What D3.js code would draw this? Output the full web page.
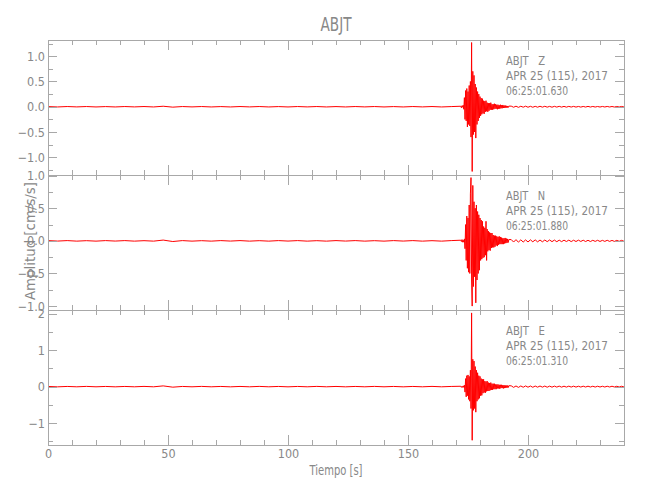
<!DOCTYPE html>
<html><head><meta charset="utf-8">
<script src="https://cdn.jsdelivr.net/npm/d3@7"></script>
<style>
body{margin:0;background:#fff}
text{font-family:"Liberation Sans Narrow","DejaVu Sans Condensed","Arial Narrow",sans-serif;fill:#888}
</style>
</head><body>
<svg id="c" width="650" height="500"></svg>
<script>
// ---- data ----
const stationName = "ABJT";
const channels = ["Z", "N", "E"];
const dateLabel = "APR 25 (115), 2017";
const startTimes = ["06:25:01.630", "06:25:01.880", "06:25:01.310"];
const xDomain = [0, 240];
const xMajorTicks = [0, 50, 100, 150, 200];
const xMinorTicks = [10,20,30,40,60,70,80,90,110,120,130,140,160,170,180,190,210,220,230,240];

const yDomainZ = [-1.35, 1.32];
const yDomainN = [-1.06, 1.01];
const yDomainE = [-1.6, 2.1];
const yMajorZ = [-1.0, -0.5, 0.0, 0.5, 1.0];
const yMinorZ = [-1.25, -0.75, -0.25, 0.25, 0.75, 1.25];
const yMajorN = [-1.0, -0.5, 0.0, 0.5, 1.0];
const yMinorN = [-0.75, -0.25, 0.25, 0.75];
const yMajorE = [-1, 0, 1, 2];
const yMinorE = [-1.5, -0.5, 0.5, 1.5];

// sampling of the three pieces of each trace (seconds)
const noiseStart = 0,   noiseStep = 4;
const eventStart = 172, eventStep = 0.25;
const codaStart = 193,  codaStep = 1;

const noiseZ = [0.003,-0.004,0.004,-0.003,0.004,-0.004,0.003,-0.004,0.004,-0.003,0.004,-0.004,0.01,-0.008,0.004,-0.003,0.004,-0.004,0.003,-0.004,0.004,-0.003,0.004,-0.004,0.003,-0.004,0.004,-0.003,0.004,-0.004,0.003,-0.004,0.004,-0.003,0.004,-0.004,0.003,-0.004,0.004,-0.003,0.004,-0.004,0.003];
const eventZ = [0.01,-0.02,0.02,-0.01,0.03,-0.05,0.18,-0.25,0.32,-0.28,0.36,-0.4,0.3,-0.35,0.42,-0.38,0.5,-0.6,1.27,-1.28,0.7,-0.55,0.62,-0.5,0.45,-0.62,0.38,-0.35,0.3,-0.28,0.25,-0.22,0.2,-0.18,0.17,-0.15,0.16,-0.13,0.12,-0.14,0.11,-0.1,0.12,-0.09,0.08,-0.1,0.07,-0.08,0.07,-0.06,0.08,-0.06,0.05,-0.06,0.05,-0.05,0.06,-0.04,0.05,-0.04,0.04,-0.05,0.04,-0.04,0.03,-0.04,0.04,-0.03,0.03,-0.03,0.035,-0.025,0.025,-0.02,0.025,-0.02,0.018,-0.02,0.015,-0.015,0.012];
const codaZ = [0.012,-0.01,0.011,-0.012,0.01,-0.009,0.011,-0.01,0.009,-0.01,0.008,-0.009,0.01,-0.008,0.009,-0.008,0.007,-0.009,0.008,-0.007,0.008,-0.007,0.007,-0.008,0.007,-0.006,0.007,-0.007,0.006,-0.007,0.006,-0.006,0.007,-0.006,0.006,-0.006,0.005,-0.006,0.006,-0.005,0.006,-0.005,0.005,-0.006,0.005,-0.005,0.006,-0.005];

const noiseN = [0.004,-0.003,0.004,-0.004,0.003,-0.004,0.004,-0.003,0.004,-0.004,0.003,-0.004,0.012,-0.01,0.004,-0.004,0.003,-0.004,0.004,-0.003,0.004,-0.004,0.003,-0.004,0.004,-0.003,0.004,-0.004,0.003,-0.004,0.004,-0.003,0.004,-0.004,0.003,-0.004,0.004,-0.003,0.004,-0.004,0.003,-0.004,0.004];
const eventN = [0.01,-0.01,0.02,-0.02,0.01,-0.02,0.03,-0.12,0.25,-0.3,0.38,-0.42,0.35,-0.48,0.55,-0.5,0.72,0.97,-0.6,-1.0,0.85,-0.7,0.6,-0.55,0.5,-0.95,0.55,-0.6,0.45,-0.5,0.4,-0.45,0.35,-0.3,0.32,-0.28,0.3,-0.26,0.22,-0.25,0.2,-0.22,0.3,-0.3,0.18,-0.16,0.15,-0.14,0.13,-0.15,0.12,-0.11,0.12,-0.1,0.09,-0.1,0.08,-0.09,0.08,-0.07,0.07,-0.08,0.06,-0.06,0.07,-0.05,0.06,-0.05,0.05,-0.05,0.04,-0.05,0.04,-0.04,0.045,-0.035,0.035,-0.03,0.03,-0.025,0.02];
const codaN = [0.02,-0.018,0.019,-0.02,0.016,-0.018,0.015,-0.017,0.016,-0.014,0.015,-0.015,0.013,-0.014,0.013,-0.012,0.014,-0.012,0.012,-0.013,0.011,-0.012,0.011,-0.01,0.011,-0.011,0.01,-0.01,0.011,-0.009,0.01,-0.01,0.009,-0.01,0.009,-0.008,0.009,-0.009,0.008,-0.008,0.009,-0.008,0.007,-0.008,0.008,-0.007,0.008,-0.007];

const noiseE = [0.005,-0.006,0.005,-0.005,0.006,-0.005,0.005,-0.006,0.005,-0.005,0.006,-0.005,0.02,-0.015,0.005,-0.005,0.006,-0.005,0.005,-0.006,0.005,-0.005,0.006,-0.005,0.005,-0.006,0.005,-0.005,0.006,-0.005,0.005,-0.006,0.005,-0.005,0.006,-0.005,0.005,-0.006,0.005,-0.005,0.006,-0.005,0.005];
const eventE = [0.01,-0.02,0.01,-0.02,0.02,-0.02,0.04,-0.15,0.22,-0.28,0.3,-0.25,0.32,-0.35,0.28,-0.4,0.45,-0.6,2.02,-1.47,0.75,-0.65,0.7,-0.6,0.55,-0.7,0.45,-0.4,0.38,-0.35,0.3,-0.32,0.28,-0.25,0.22,-0.24,0.2,-0.18,0.2,-0.16,0.15,-0.17,0.14,-0.13,0.15,-0.12,0.11,-0.12,0.1,-0.1,0.11,-0.09,0.08,-0.09,0.08,-0.07,0.08,-0.07,0.06,-0.07,0.06,-0.05,0.06,-0.05,0.05,-0.06,0.05,-0.04,0.05,-0.04,0.04,-0.05,0.04,-0.04,0.035,-0.035,0.03,-0.03,0.03,-0.025,0.025];
const codaE = [0.022,-0.02,0.018,-0.021,0.018,-0.017,0.019,-0.016,0.017,-0.018,0.016,-0.015,0.017,-0.014,0.015,-0.016,0.014,-0.015,0.014,-0.013,0.014,-0.014,0.012,-0.013,0.013,-0.012,0.012,-0.013,0.011,-0.012,0.012,-0.011,0.012,-0.011,0.011,-0.012,0.011,-0.011,0.01,-0.011,0.011,-0.01,0.011,-0.01,0.01,-0.011,0.01,-0.01];

// ---- layout ----
const left = 48, right = 624;
const panelTops = [40, 175, 310];
const panelH = 135;
const axisColor = "#a8a8a8";
const textColor = "#888888";
const traceColor = "#ff0000";

const panels = [
  {ch: channels[0], time: startTimes[0], dom: yDomainZ, major: yMajorZ, minor: yMinorZ, fmt: d3.format(".1f"), noise: noiseZ, event: eventZ, coda: codaZ},
  {ch: channels[1], time: startTimes[1], dom: yDomainN, major: yMajorN, minor: yMinorN, fmt: d3.format(".1f"), noise: noiseN, event: eventN, coda: codaN},
  {ch: channels[2], time: startTimes[2], dom: yDomainE, major: yMajorE, minor: yMinorE, fmt: d3.format("d"), noise: noiseE, event: eventE, coda: codaE}
];

const svg = d3.select("#c");
const x = d3.scaleLinear().domain(xDomain).range([left, right]);

function piece(vals, t0, dt) { return vals.map((v, i) => ({t: t0 + i * dt, v})); }

const defs = svg.append("defs");

panels.forEach((p, k) => {
  const top = panelTops[k], bot = top + panelH;
  const y = d3.scaleLinear().domain(p.dom).range([bot, top]);
  const g = svg.append("g");

  defs.append("clipPath").attr("id", "clip" + k)
    .append("rect").attr("x", left).attr("y", top).attr("width", right - left).attr("height", panelH);

  const pts = piece(p.noise, noiseStart, noiseStep)
    .concat(piece(p.event, eventStart, eventStep))
    .concat(piece(p.coda, codaStart, codaStep));
  const line = d3.line().x(d => x(d.t)).y(d => y(d.v));
  g.append("path").datum(pts)
    .attr("clip-path", "url(#clip" + k + ")")
    .attr("d", line).attr("fill", "none")
    .attr("stroke", traceColor).attr("stroke-width", 1);

  function styleAxis(sel) {
    sel.selectAll("path,line").attr("stroke", axisColor).attr("shape-rendering", "crispEdges");
    sel.selectAll("text").attr("fill", textColor).attr("font-size", 12.5)
      .attr("font-family", '"Liberation Sans Narrow","DejaVu Sans Condensed",sans-serif');
  }

  // left
  g.append("g").attr("transform", `translate(${left},0)`)
    .call(d3.axisLeft(y).tickValues(p.major).tickSize(-9).tickSizeOuter(0).tickPadding(3).tickFormat(p.fmt))
    .call(styleAxis);
  g.append("g").attr("transform", `translate(${left},0)`)
    .call(d3.axisLeft(y).tickValues(p.minor).tickSize(-5).tickSizeOuter(0).tickFormat(""))
    .call(s => s.select(".domain").remove()).call(styleAxis);
  // right
  g.append("g").attr("transform", `translate(${right},0)`)
    .call(d3.axisRight(y).tickValues(p.major).tickSize(-9).tickSizeOuter(0).tickFormat(""))
    .call(styleAxis);
  g.append("g").attr("transform", `translate(${right},0)`)
    .call(d3.axisRight(y).tickValues(p.minor).tickSize(-5).tickSizeOuter(0).tickFormat(""))
    .call(s => s.select(".domain").remove()).call(styleAxis);
  // top
  g.append("g").attr("transform", `translate(0,${top})`)
    .call(d3.axisTop(x).tickValues(xMajorTicks).tickSize(-10).tickSizeOuter(0).tickFormat(""))
    .call(styleAxis);
  g.append("g").attr("transform", `translate(0,${top})`)
    .call(d3.axisTop(x).tickValues(xMinorTicks).tickSize(-5).tickSizeOuter(0).tickFormat(""))
    .call(s => s.select(".domain").remove()).call(styleAxis);
  // bottom
  const showLabels = (k === panels.length - 1);
  g.append("g").attr("transform", `translate(0,${bot})`)
    .call(d3.axisBottom(x).tickValues(xMajorTicks).tickSize(-10).tickSizeOuter(0).tickPadding(4)
      .tickFormat(showLabels ? d3.format("d") : ""))
    .call(styleAxis);
  g.append("g").attr("transform", `translate(0,${bot})`)
    .call(d3.axisBottom(x).tickValues(xMinorTicks).tickSize(-5).tickSizeOuter(0).tickFormat(""))
    .call(s => s.select(".domain").remove()).call(styleAxis);

  // annotation
  const ann = g.append("g").attr("font-size", 12.5);
  ann.append("text").attr("x", 506).attr("y", top + 25).style("white-space", "pre")
    .attr("textLength", 39).attr("lengthAdjust", "spacingAndGlyphs")
    .text(stationName + "   " + p.ch);
  ann.append("text").attr("x", 506).attr("y", top + 39.5)
    .attr("textLength", 102).attr("lengthAdjust", "spacingAndGlyphs")
    .text(dateLabel);
  ann.append("text").attr("x", 506).attr("y", top + 54.5)
    .attr("textLength", 62).attr("lengthAdjust", "spacingAndGlyphs")
    .text(p.time);
});

// title
svg.append("text").attr("x", 336).attr("y", 31).attr("text-anchor", "middle")
  .attr("font-size", 20).attr("textLength", 31).attr("lengthAdjust", "spacingAndGlyphs")
  .text(stationName);
// axis titles
svg.append("text").attr("x", 336).attr("y", 475).attr("text-anchor", "middle")
  .attr("font-size", 13.5).attr("textLength", 53).attr("lengthAdjust", "spacingAndGlyphs")
  .text("Tiempo [s]");
svg.append("text").attr("transform", "translate(35,241) rotate(-90)").attr("text-anchor", "middle")
  .attr("font-size", 14).attr("textLength", 118).attr("lengthAdjust", "spacingAndGlyphs")
  .text("Amplitud [cm/s/s]");
</script>
</body></html>
